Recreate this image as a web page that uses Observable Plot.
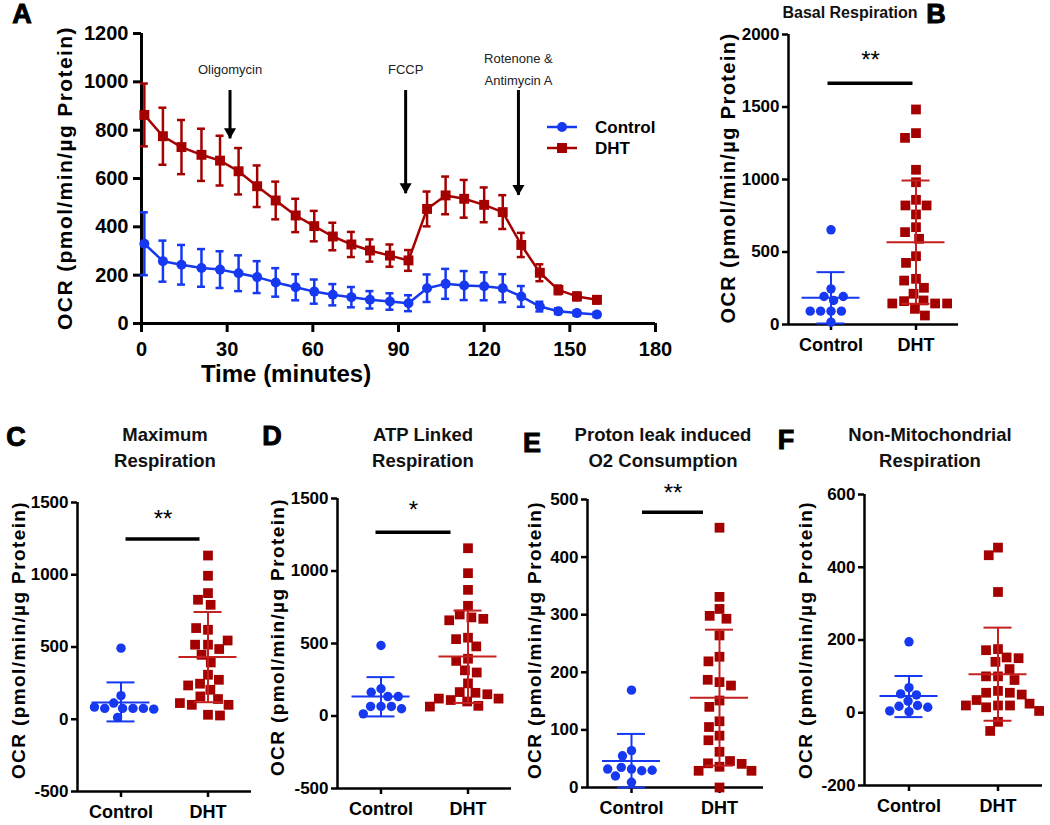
<!DOCTYPE html>
<html><head><meta charset="utf-8">
<script src="https://cdn.jsdelivr.net/npm/d3@7"></script>
<script src="https://cdn.jsdelivr.net/npm/@observablehq/plot@0.6"></script>
<style>
body{margin:0;background:#fff;font-family:"Liberation Sans",Arial,sans-serif;color:#000;}
#root{position:relative;width:1050px;height:825px;overflow:hidden;background:#fff;}
.panel{position:absolute;}
.panel svg{background:transparent!important;overflow:visible;}
.txt{position:absolute;white-space:nowrap;transform:translate(-50%,-50%);}
.ylab{position:absolute;white-space:nowrap;font-weight:bold;transform:translate(-50%,-50%) rotate(-90deg);}
.letter{position:absolute;font-weight:900;font-size:27px;transform:translate(-50%,-50%);-webkit-text-stroke:1px #000;}
.title{position:absolute;font-size:18.5px;font-weight:bold;text-align:center;transform:translate(-50%,0);line-height:26px;white-space:nowrap;color:#111;}
</style></head><body><div id="root"></div>
<script>
// ---------- colours ----------
const BLUE = "#1538f0", RED = "#a50000", RED_LINE = "#c42020";

// ---------- Panel A: time course ----------
const timeMin = [1, 7.5, 14, 21, 27.5, 34, 40.5, 47, 54, 60.5, 67, 73.5, 80, 87, 93.5, 100, 106.5, 113, 120, 126.5, 133, 139.5, 146, 152.5, 159.5];
const ctrlMean = [330, 258, 243, 230, 223, 208, 192, 170, 150, 132, 119, 109, 98, 91, 84, 146, 164, 157, 154, 146, 112, 70, 51, 43, 37];
const ctrlSem  = [130, 85, 82, 78, 76, 74, 66, 59, 54, 50, 44, 42, 36, 34, 33, 57, 62, 60, 58, 58, 43, 20, 12, 10, 10];
const dhtMean  = [863, 775, 730, 698, 674, 630, 568, 509, 447, 403, 360, 327, 302, 281, 261, 474, 530, 516, 491, 461, 325, 210, 139, 112, 98];
const dhtSem   = [130, 118, 112, 108, 103, 96, 86, 78, 69, 63, 57, 52, 46, 46, 43, 72, 78, 78, 72, 70, 50, 35, 18, 16, 15];
const xTicksA = [0, 30, 60, 90, 120, 150, 180];
const yTicksA = [0, 200, 400, 600, 800, 1000, 1200];
const injectionTime  = [31, 92.5, 132];
const injectionLabel = ["Oligomycin", "FCCP", "Rotenone &\nAntimycin A"];
const injectionTip   = [764, 537, 530];
const injectionTop = 964, injectionLabelY = 1060;
const seriesNames = ["Control", "DHT"];

// ---------- Panels B-F: scatter dot plots (values per animal/sample) ----------
const groups = ["Control", "DHT"];
const basalCtrl = [653, 246, 193, 166, 193, 92, 92, 92, 92, 16];
const basalDht  = [1483, 1320, 1287, 1067, 981, 860, 821, 821, 759, 671, 637, 591, 471, 425, 315, 303, 253, 212, 166, 161, 145, 145, 145, 108, 62];
const basalStats = {Control: [184, 7, 361], DHT: [568, 143, 993]};   // mean, lower SD, upper SD

const maxCtrl = [492, 163, 112, 75, 75, 75, 75, 84, 12, 70];
const maxDht  = [1133, 993, 873, 827, 792, 619, 631, 516, 446, 486, 516, 545, 393, 308, 246, 273, 204, 234, 158, 140, 100, 100, 31, 112, 26];
const maxStats = {Control: [116, -15, 255], DHT: [430, 118, 742]};

const atpCtrl = [486, 188, 164, 134, 134, 66, 66, 66, 50, 15];
const atpDht  = [1157, 985, 870, 760, 700, 680, 670, 660, 540, 530, 480, 395, 380, 315, 300, 225, 165, 160, 150, 110, 120, 100, 120, 70, 65];
const atpStats = {Control: [134, -3, 268], DHT: [410, 90, 727]};

const leakCtrl = [169, 64, 55, 32, 35, 29, 20, 30, 32, 9];
const leakDht  = [451, 331, 310, 298, 293, 264, 227, 219, 183, 187, 177, 151, 140, 115, 105, 90, 82, 62, 36, 42, 46, 41, 29, 29, 0];
const leakStats = {Control: [46, 0, 93], DHT: [156, 38, 274]};

const nonMitoCtrl = [195, 69, 52, 49, 32, 20, 18, 15, 5, 3];
const nonMitoDht  = [454, 433, 332, 175, 172, 152, 150, 140, 120, 100, 100, 90, 60, 55, 55, 50, 35, 20, 20, 25, 15, 20, 5, -25, -50];
const nonMitoStats = {Control: [46, -12, 101], DHT: [106, -22, 234]};

const yLabel = "OCR (pmol/min/µg Protein)";

const root = document.getElementById("root");
function addPanel(svg, left, top) {
  const d = document.createElement("div");
  d.className = "panel"; d.style.left = left + "px"; d.style.top = top + "px";
  d.appendChild(svg); root.appendChild(d);
}
function addText(cls, text, x, y, extra) {
  const d = document.createElement("div");
  d.className = cls; d.textContent = text;
  d.style.left = x + "px"; d.style.top = y + "px";
  if (extra) Object.assign(d.style, extra);
  root.appendChild(d);
  return d;
}
const baseStyle = {fontFamily: "'Liberation Sans', Arial, sans-serif", fontWeight: "bold", color: "#000", background: "transparent", overflow: "visible"};

// ---------- Panel A ----------
(function () {
  const ctrlRows = timeMin.map((t, i) => ({t, m: ctrlMean[i], e: ctrlSem[i]}));
  const dhtRows = timeMin.map((t, i) => ({t, m: dhtMean[i], e: dhtSem[i]}));
  const inj = injectionTime.map((t, i) => ({t, label: injectionLabel[i], tip: injectionTip[i]}));
  const cap = 1.4;
  const errMarks = (rows, color) => [
    Plot.ruleX(rows, {x: "t", y1: d => d.m - d.e, y2: d => d.m + d.e, stroke: color, strokeWidth: 2.5}),
    Plot.ruleY(rows, {y: d => d.m + d.e, x1: d => d.t - cap, x2: d => d.t + cap, stroke: color, strokeWidth: 2.5}),
    Plot.ruleY(rows, {y: d => d.m - d.e, x1: d => d.t - cap, x2: d => d.t + cap, stroke: color, strokeWidth: 2.5})
  ];
  const svg = Plot.plot({
    width: 690, height: 372,
    marginLeft: 141, marginRight: 35, marginTop: 33, marginBottom: 49,
    x: {domain: [0, 180], axis: null},
    y: {domain: [0, 1200], axis: null},
    style: {...baseStyle, fontSize: "20px"},
    marks: [
      Plot.axisX({ticks: xTicksA, tickSize: 9, tickPadding: 9, strokeWidth: 3, label: null, tickFormat: d => String(d)}),
      Plot.axisY({ticks: yTicksA, tickSize: 8, tickPadding: 5, strokeWidth: 3, label: null, tickFormat: d => String(d)}),
      Plot.ruleY([0], {stroke: "#000", strokeWidth: 3}),
      Plot.ruleX([0], {stroke: "#000", strokeWidth: 3}),
      ...errMarks(dhtRows, RED),
      Plot.line(dhtRows, {x: "t", y: "m", stroke: RED, strokeWidth: 2.5}),
      Plot.dot(dhtRows, {x: "t", y: "m", symbol: "square", r: 5.6, fill: RED}),
      ...errMarks(ctrlRows, BLUE),
      Plot.line(ctrlRows, {x: "t", y: "m", stroke: BLUE, strokeWidth: 2.5}),
      Plot.dot(ctrlRows, {x: "t", y: "m", r: 5, fill: BLUE}),
      Plot.ruleX(inj, {x: "t", y1: () => injectionTop, y2: "tip", stroke: "#000", strokeWidth: 3}),
      Plot.dot(inj, {x: "t", y: "tip", symbol: "triangle", rotate: 180, r: 4.5, fill: "#000", dy: -7}),
      Plot.text(inj, {x: "t", y: () => injectionLabelY, text: "label", fontSize: 13, fontWeight: "normal", fill: "#222", lineHeight: 1.7})
    ]
  });
  addPanel(svg, 0, 0);
  // legend
  const lg = document.createElementNS("http://www.w3.org/2000/svg", "svg");
  lg.setAttribute("width", 110); lg.setAttribute("height", 50);
  lg.style.position = "absolute"; lg.style.left = "545px"; lg.style.top = "115px";
  lg.innerHTML = `<line x1="2" x2="32" y1="12" y2="12" stroke="${BLUE}" stroke-width="2.5"/><circle cx="17" cy="12" r="5" fill="${BLUE}"/>
  <line x1="2" x2="32" y1="33" y2="33" stroke="${RED}" stroke-width="2.5"/><rect x="12" y="28" width="10" height="10" fill="${RED}"/>
  <text x="50" y="12" dy="0.36em" font-size="17" font-weight="bold" font-family="Liberation Sans, Arial, sans-serif">${seriesNames[0]}</text>
  <text x="50" y="33" dy="0.36em" font-size="17" font-weight="bold" font-family="Liberation Sans, Arial, sans-serif">${seriesNames[1]}</text>`;
  root.appendChild(lg);
  addText("ylab", yLabel, 65, 178, {fontSize: "21px", letterSpacing: "1.4px"});
  addText("txt", "Time (minutes)", 286, 374, {fontSize: "24px", fontWeight: "bold"});
  addText("letter", "A", 22, 14);
})();

// ---------- scatter panels ----------
function scatterPanel(o) {
  const step = (o.width - o.ml - o.mr) / 2;
  const half = step / 2;
  const [y0, y1] = o.yDomain;
  const ctrlPts = o.ctrl.map(v => ({g: groups[0], v}));
  const dhtPts = o.dht.map(v => ({g: groups[1], v}));
  const statMarks = groups.map(g => {
    const [mean, lo, hi] = o.stats[g];
    const s = [{g, mean, lo, hi}];
    const c = g === "Control" ? BLUE : RED_LINE;
    return [
      Plot.ruleX(s, {fx: "g", x: 0, y1: "lo", y2: "hi", stroke: c, strokeWidth: 2}),
      Plot.ruleY(s, {fx: "g", y: "hi", x1: -14, x2: 14, stroke: c, strokeWidth: 2}),
      Plot.ruleY(s, {fx: "g", y: "lo", x1: -14, x2: 14, stroke: c, strokeWidth: 2}),
      Plot.ruleY(s, {fx: "g", y: "mean", x1: -29, x2: 29, stroke: c, strokeWidth: 2})
    ];
  }).flat();
  const sigMarks = o.sig ? [
    Plot.ruleY([{g: groups[0]}], {fx: "g", y: () => o.sig.y, x1: o.sig.x1, x2: step + o.sig.x2, stroke: "#000", strokeWidth: 3.5}),
    Plot.text([{g: groups[0]}], {fx: "g", y: () => o.sig.ty, x: step / 2 + (o.sig.x1 + o.sig.x2) / 2, text: () => o.sig.text, fontSize: 24, fontWeight: "normal"})
  ] : [];
  const svg = Plot.plot({
    width: o.width, height: o.height,
    marginLeft: o.ml, marginRight: o.mr, marginTop: o.mt, marginBottom: o.mb,
    fx: {domain: groups, padding: 0, axis: null},
    x: {domain: [-half, half], axis: null},
    y: {domain: o.yDomain, axis: null},
    style: {...baseStyle, fontSize: "17px"},
    marks: [
      Plot.ruleY([y0], {stroke: "#000", strokeWidth: 2.5}),
      Plot.ruleX([{g: groups[0]}], {fx: "g", x: -half, y1: () => y0, y2: () => y1, stroke: "#000", strokeWidth: 2.5}),
      Plot.axisY({ticks: o.yTicks, tickSize: 6, tickPadding: 3, strokeWidth: 2.5, label: null, tickFormat: d => String(d)}),
      Plot.axisFx({tickSize: 6, tickPadding: 8, strokeWidth: 2.5, label: null, anchor: "bottom", fontSize: 18}),
      Plot.dot(ctrlPts, Plot.dodgeX("middle", {fx: "g", y: "v", r: 4.7, fill: BLUE, padding: 4})),
      Plot.dot(dhtPts, Plot.dodgeX("middle", {fx: "g", y: "v", r: 5.5, symbol: "square", fill: RED, padding: 1})),
      ...statMarks,
      ...sigMarks
    ]
  });
  addPanel(svg, o.left, o.top);
  addText("ylab", yLabel, o.labX, o.labY, {fontSize: o.labSize + "px", letterSpacing: o.labSpacing + "px"});
  const t = addText("title", "", o.titleX, o.titleY, o.titleSize ? {fontSize: o.titleSize + "px"} : null);
  t.innerText = o.title;
  addText("letter", o.letter, o.letX, o.letY);
}

scatterPanel({left: 690, top: 0, width: 280, height: 360, ml: 98, mr: 12, mt: 34, mb: 36,
  ctrl: basalCtrl, dht: basalDht, stats: basalStats, yDomain: [0, 2000], yTicks: [0, 500, 1000, 1500, 2000],
  sig: {y: 1664, ty: 1820, x1: -3, x2: -3, text: "**"},
  labX: 728, labY: 178, labSize: 20, labSpacing: 1.4,
  title: "Basal Respiration", titleX: 850, titleY: 0, titleSize: 16, letter: "B", letX: 936, letY: 14});

scatterPanel({left: 0, top: 480, width: 260, height: 345, ml: 77, mr: 9, mt: 22, mb: 34,
  ctrl: maxCtrl, dht: maxDht, stats: maxStats, yDomain: [-500, 1500], yTicks: [-500, 0, 500, 1000, 1500],
  sig: {y: 1247, ty: 1382, x1: 5, x2: -8, text: "**"},
  labX: 19, labY: 640, labSize: 19, labSpacing: 1.4,
  title: "Maximum\nRespiration", titleX: 165, titleY: 422, letter: "C", letX: 16, letY: 437});

scatterPanel({left: 260, top: 480, width: 260, height: 345, ml: 77, mr: 9, mt: 18, mb: 37,
  ctrl: atpCtrl, dht: atpDht, stats: atpStats, yDomain: [-500, 1500], yTicks: [-500, 0, 500, 1000, 1500],
  sig: {y: 1268, ty: 1417, x1: -5, x2: -17, text: "*"},
  labX: 278, labY: 637, labSize: 19, labSpacing: 1.4,
  title: "ATP Linked\nRespiration", titleX: 423, titleY: 422, letter: "D", letX: 272, letY: 436});

scatterPanel({left: 510, top: 480, width: 260, height: 345, ml: 77, mr: 7, mt: 19, mb: 38,
  ctrl: leakCtrl, dht: leakDht, stats: leakStats, yDomain: [0, 500], yTicks: [0, 100, 200, 300, 400, 500],
  sig: {y: 478, ty: 510, x1: 11, x2: -16, text: "**"},
  labX: 535, labY: 640, labSize: 19, labSpacing: 1.4,
  title: "Proton leak induced\nO2 Consumption", titleX: 663, titleY: 422, letter: "E", letX: 532, letY: 443});

scatterPanel({left: 780, top: 480, width: 270, height: 345, ml: 84, mr: 8, mt: 14, mb: 40,
  ctrl: nonMitoCtrl, dht: nonMitoDht, stats: nonMitoStats, yDomain: [-200, 600], yTicks: [-200, 0, 200, 400, 600],
  sig: null,
  labX: 806, labY: 640, labSize: 19, labSpacing: 1.4,
  title: "Non-Mitochondrial\nRespiration", titleX: 930, titleY: 422, letter: "F", letX: 786, letY: 440});
</script></body></html>
